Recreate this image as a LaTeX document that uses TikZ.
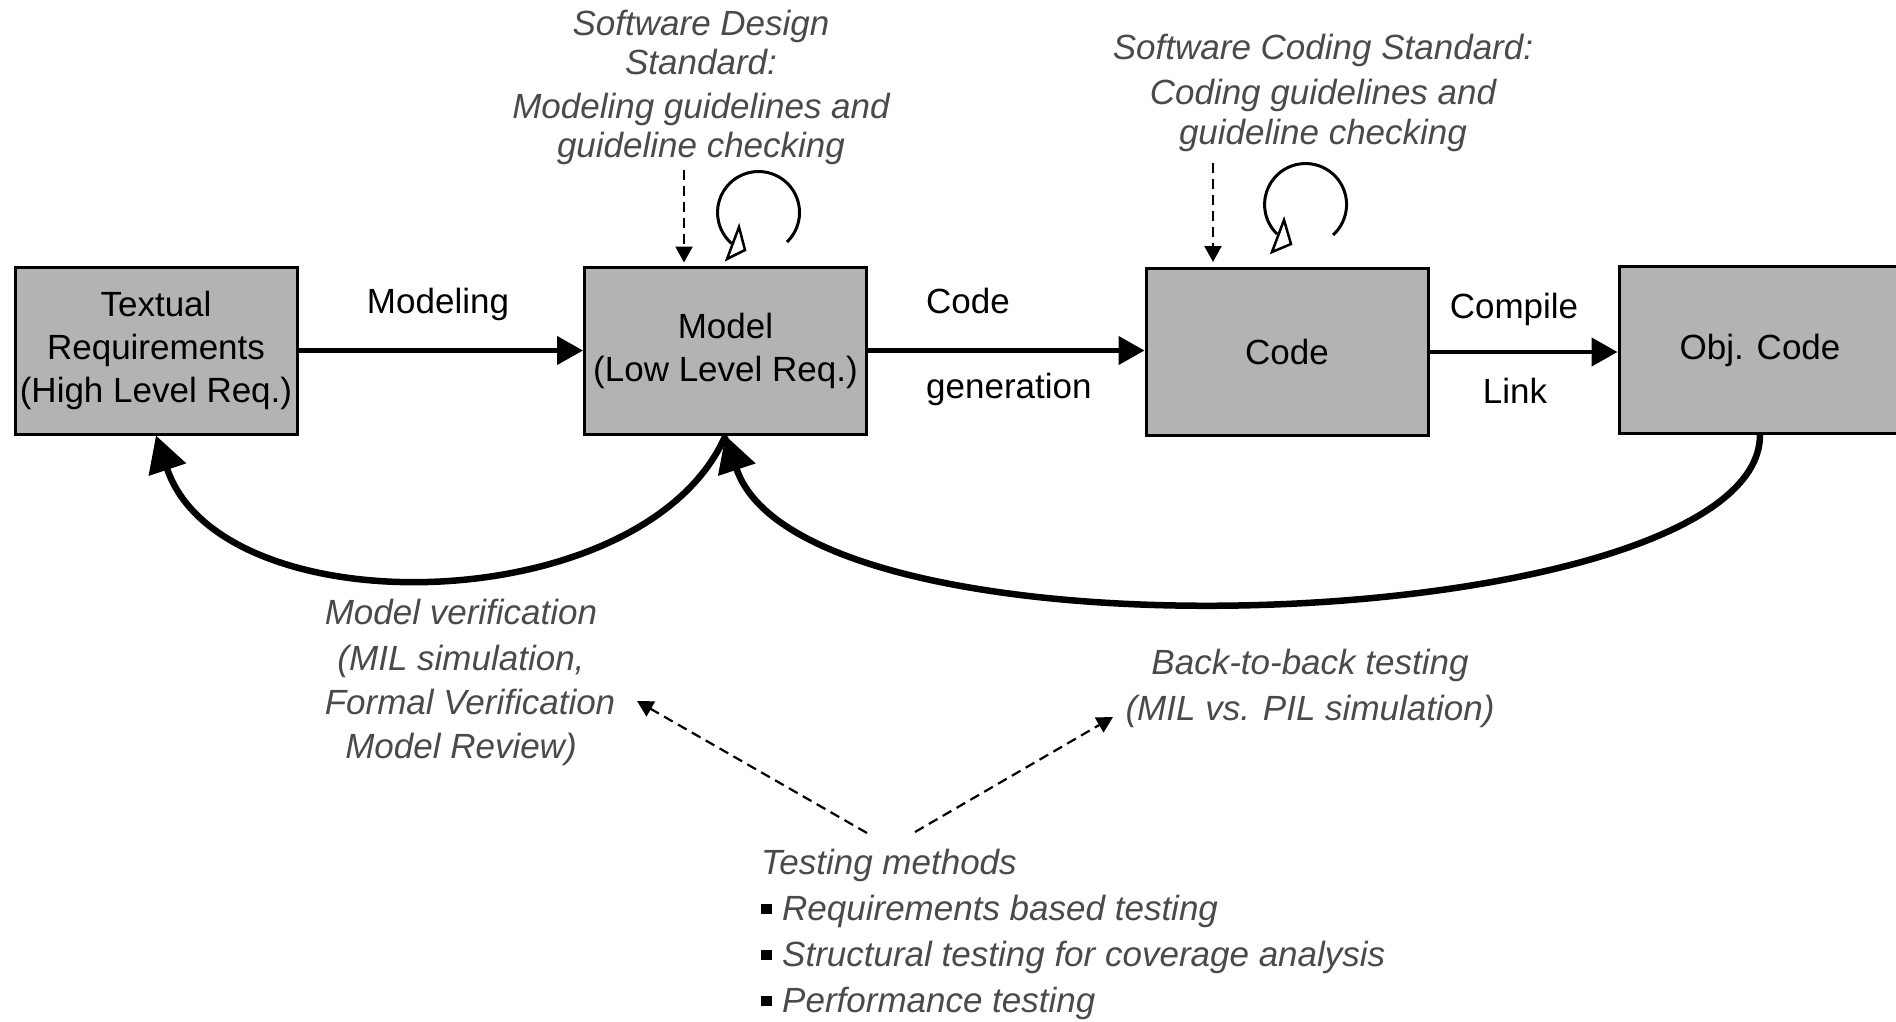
\documentclass[tikz,border=0pt]{standalone}
\usepackage{fontspec}
\setmainfont{Liberation Sans}
\usetikzlibrary{arrows.meta}
\definecolor{boxgray}{RGB}{179,179,179}
\definecolor{notegray}{RGB}{74,74,74}
\begin{document}
\begin{tikzpicture}[x=1pt,y=-1pt,
  blk/.style={draw=black, line width=3pt, fill=boxgray, minimum width=282pt, minimum height=167pt, inner sep=0pt, align=center, font=\fontsize{35}{43}\selectfont},
  lbl/.style={font=\fontsize{35}{43}\selectfont, inner sep=0pt},
  note/.style={font=\fontsize{35}{43}\selectfont\itshape, text=notegray, inner sep=0pt},
  flow/.style={line width=4.5pt, -{Triangle[length=26pt,width=28pt]}},
  back/.style={line width=6.5pt, -{Triangle[length=36pt,width=38pt]}},
  hint/.style={line width=2.2pt, dash pattern=on 10pt off 6pt, -{Triangle[length=16pt,width=17pt]}},
  curl/.style={line width=3pt},
  openhead/.style={line width=2.5pt, fill=white, line join=miter},
]
\path[use as bounding box] (0,0) rectangle (1896,1021);

% boxes
\node[blk] (T) at (156,350.5) {Textual\\Requirements\\(High Level Req.)};
\node[blk] (M) at (725.5,350.5) {Model\\(Low Level Req.)};
\node[blk] (C) at (1287,352) {Code};
\node[blk] (O) at (1760,350) {Obj. Code};

% forward flow
\draw[flow] (T.east) -- (M.west);
\draw[flow] (M.east) -- (M.east -| C.west);
\draw[flow] (C.east) -- (C.east -| O.west);

\node[lbl, anchor=base] (lmod) at (438,313) {Modeling};
\node[lbl, anchor=base west] (lcode) at (926,313) {Code};
\node[lbl, anchor=base west] (lgen) at (926,398) {generation};
\node[lbl, anchor=base] (lcomp) at (1514,318) {Compile};
\node[lbl, anchor=base] (llink) at (1515,403) {Link};

% design standard note
\node[note, anchor=base] (sd1) at (701,35) {Software Design};
\node[note, anchor=base] (sd2) at (701,74) {Standard:};
\node[note, anchor=base] (sd3) at (701,118) {Modeling guidelines and};
\node[note, anchor=base] (sd4) at (701,157) {guideline checking};
\coordinate (sdtop) at (684,170);
\draw[hint, shorten >=3pt] (sdtop) -- (sdtop |- M.north);

% coding standard note
\node[note, anchor=base] (sc1) at (1323,59) {Software Coding Standard:};
\node[note, anchor=base] (sc2) at (1323,104) {Coding guidelines and};
\node[note, anchor=base] (sc3) at (1323,144) {guideline checking};
\coordinate (sctop) at (1213,163);
\draw[hint, shorten >=5pt] (sctop) -- (sctop |- C.north);

% self loops
\draw[curl] (787,242) arc[start angle=46, end angle=-229, radius=41];
\draw[openhead] (739,227) -- (745,250) -- (727,259) -- cycle;
\draw[curl] (1333,235) arc[start angle=48, end angle=-226, radius=41];
\draw[openhead] (1284,220) -- (1291,244) -- (1272,252) -- cycle;

% feedback curves
\draw[back] (M.south) .. controls (645,620) and (221,630) .. (T.south);
\draw[back] (O.south) .. controls (1759,635) and (805,676) .. (M.south);

% model verification note
\node[note, anchor=base] (mv1) at (461,624) {Model verification};
\node[note, anchor=base] (mv2) at (461,670) {(MIL simulation,};
\node[note, anchor=base] (mv3) at (470,714) {Formal Verification};
\node[note, anchor=base] (mv4) at (461,758) {Model Review)};

% back-to-back note
\node[note, anchor=base] (bb1) at (1310,674) {Back-to-back testing};
\node[note, anchor=base] (bb2) at (1310,720) {(MIL vs. PIL simulation)};

% testing methods
\node[note, anchor=base west] (tm0) at (761,874) {Testing methods};
\node[note, anchor=base west] (tm1) at (761,920) {\textcolor{black}{\rule[6pt]{11pt}{10pt}}\hspace{10pt}Requirements based testing};
\node[note, anchor=base west] (tm2) at (761,966) {\textcolor{black}{\rule[6pt]{11pt}{10pt}}\hspace{10pt}Structural testing for coverage analysis};
\node[note, anchor=base west] (tm3) at (761,1012) {\textcolor{black}{\rule[6pt]{11pt}{10pt}}\hspace{10pt}Performance testing};

\coordinate (tmL) at (867,833);
\coordinate (tmR) at (915,832);
\coordinate (mvTip) at (637,701);
\coordinate (bbTip) at (1113,717);
\draw[hint] (tmL) -- (mvTip);
\draw[hint] (tmR) -- (bbTip);
\end{tikzpicture}
\end{document}
